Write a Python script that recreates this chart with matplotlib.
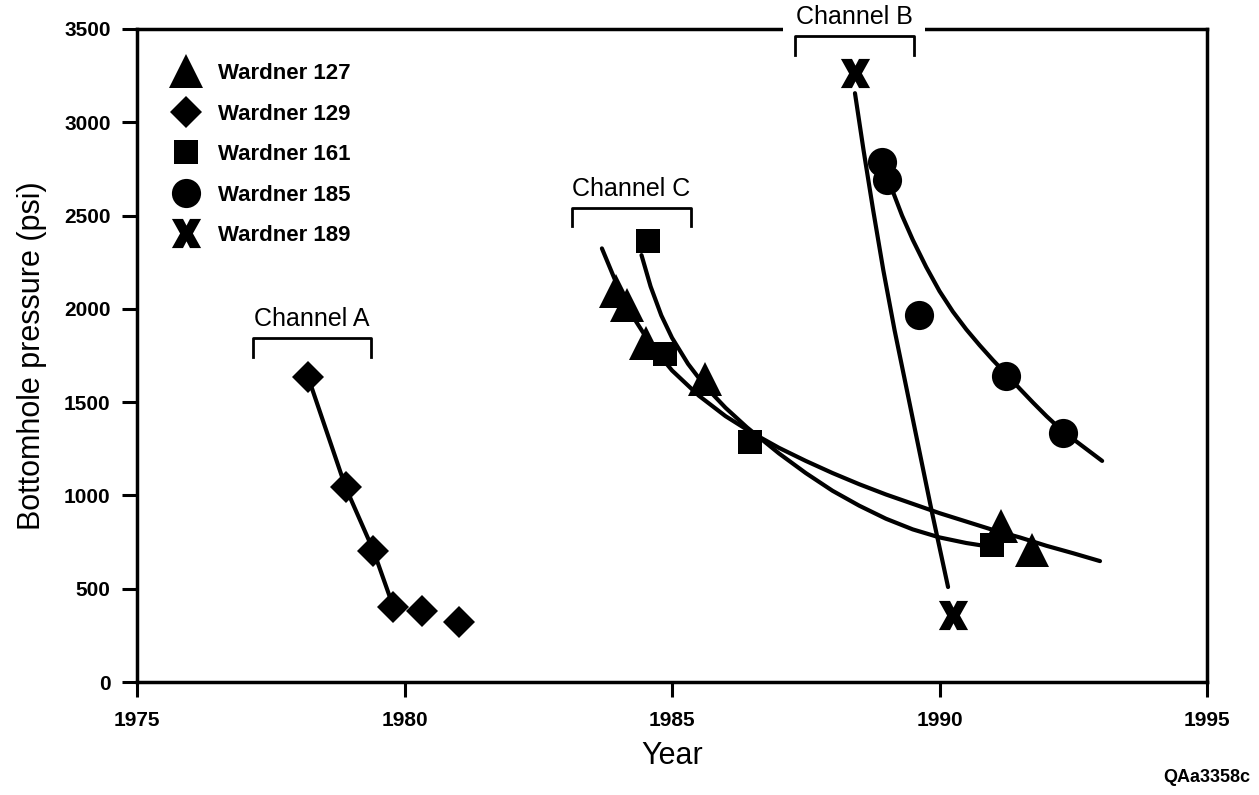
import matplotlib
matplotlib.use('Agg')
import matplotlib.pyplot as plt
from matplotlib.path import Path

plt.rcParams['font.family'] = ['Liberation Sans', 'DejaVu Sans']

w127_year = [1983.95, 1984.16, 1984.51, 1985.62, 1991.15, 1991.72]
w127_psi = [2098, 2020, 1815, 1624, 838, 707]
w129_year = [1978.20, 1978.90, 1979.42, 1979.79, 1980.32, 1981.02]
w129_psi = [1633, 1043, 704, 404, 382, 323]
w161_year = [1984.56, 1984.87, 1986.46, 1990.98]
w161_psi = [2365, 1758, 1288, 734]
w185_year = [1988.92, 1989.02, 1989.62, 1991.24, 1992.30]
w185_psi = [2788, 2690, 1967, 1640, 1336]
w189_year = [1988.42, 1990.26]
w189_psi = [3262, 359]

# trend curves
c127_year = [1983.69, 1984.0, 1984.3, 1984.6, 1985.0, 1985.5, 1986.0, 1986.5,
             1987.0, 1987.5, 1988.0, 1988.5, 1989.0, 1989.5, 1990.0, 1990.5,
             1991.0, 1991.5, 1992.0, 1992.5, 1993.0]
c127_psi = [2324, 2110, 1945, 1810, 1670, 1535, 1425, 1335,
            1255, 1185, 1120, 1060, 1005, 955, 905, 860,
            815, 775, 730, 690, 648]
c161_year = [1984.43, 1984.6, 1984.8, 1985.0, 1985.3, 1985.62, 1986.0, 1986.4,
             1987.0, 1987.5, 1988.0, 1988.5, 1989.0, 1989.5, 1990.0, 1990.5,
             1990.81]
c161_psi = [2288, 2120, 1965, 1845, 1705, 1585, 1470, 1365,
            1225, 1120, 1025, 945, 875, 818, 775, 745, 731]
c185_year = [1988.93, 1989.1, 1989.3, 1989.5, 1989.75, 1990.0, 1990.25,
             1990.5, 1990.75, 1991.0, 1991.25, 1991.5, 1991.75, 1992.0,
             1992.3, 1992.6, 1993.04]
c185_psi = [2787, 2650, 2500, 2370, 2225, 2095, 1985,
            1890, 1805, 1725, 1650, 1572, 1497, 1425,
            1345, 1280, 1185]
c189_year = [1988.42, 1988.58, 1988.76, 1988.95, 1989.16, 1989.39, 1989.62,
             1989.85, 1990.16]
c189_psi = [3156, 2851, 2529, 2207, 1886, 1565, 1243, 922, 509]

# bold letter-X shaped marker like the original
x_verts = [(-0.5, 0.5), (-0.12, 0.5), (0, 0.27), (0.12, 0.5), (0.5, 0.5),
           (0.22, 0), (0.5, -0.5), (0.12, -0.5), (0, -0.27), (-0.12, -0.5),
           (-0.5, -0.5), (-0.22, 0), (-0.5, 0.5)]
x_marker = Path(x_verts, closed=True)

fig = plt.figure(figsize=(12.59, 7.95), dpi=100)
ax = fig.add_axes([137/1259, 1 - 682/795, 1070/1259, 653/795])

line_kw = dict(color='black', lw=3.0, solid_capstyle='round',
               solid_joinstyle='round', zorder=3)
ax.plot(w129_year[:4], w129_psi[:4], **line_kw)
ax.plot(c127_year, c127_psi, **line_kw)
ax.plot(c161_year, c161_psi, **line_kw)
ax.plot(c185_year, c185_psi, **line_kw)
ax.plot(c189_year, c189_psi, **line_kw)

mk = dict(color='black', linestyle='none', markeredgewidth=0, zorder=4)
ax.plot(w127_year, w127_psi, marker='^', markersize=24, label='Wardner 127', **mk)
ax.plot(w129_year, w129_psi, marker='D', markersize=16, label='Wardner 129', **mk)
ax.plot(w161_year, w161_psi, marker='s', markersize=17, label='Wardner 161', **mk)
ax.plot(w185_year, w185_psi, marker='o', markersize=21, label='Wardner 185', **mk)
ax.plot(w189_year, w189_psi, marker=x_marker, markersize=21, label='Wardner 189', **mk)

ax.set_xlim(1975, 1995)
ax.set_ylim(0, 3500)
ax.set_xticks(range(1975, 1996, 5))
ax.set_yticks(range(0, 3501, 500))
ax.tick_params(direction='out', length=11, width=2.2, labelsize=15)
ax.tick_params(axis='x', pad=10)
ax.tick_params(axis='y', pad=8)
for lab in ax.get_xticklabels() + ax.get_yticklabels():
    lab.set_fontweight('bold')
for sp in ax.spines.values():
    sp.set_linewidth(2.5)

ax.set_xlabel('Year', fontsize=22, labelpad=8)
ax.set_ylabel('Bottomhole pressure (psi)', fontsize=22, labelpad=12)

# channel brackets
brackets = [('Channel A', 1977.17, 1979.37, 1843, 1742),
            ('Channel C', 1983.14, 1985.35, 2539, 2444),
            ('Channel B', 1987.30, 1989.52, 3462, 3360)]
for name, x0, x1, ytop, ybot in brackets:
    ax.plot([x0, x0, x1, x1], [ybot, ytop, ytop, ybot], color='black', lw=2,
            clip_on=False, zorder=6)
    box = None
    if name == 'Channel B':
        box = dict(facecolor='white', edgecolor='none', pad=9)
    ax.text((x0 + x1) / 2, ytop + 40, name, ha='center', va='bottom',
            fontsize=18, zorder=5, clip_on=False, bbox=box)

leg = ax.legend(loc='upper left', bbox_to_anchor=(0.0302, 0.948), frameon=False,
                borderaxespad=0, borderpad=0, handlelength=1.5, handletextpad=0.7,
                labelspacing=0.88, prop={'size': 16, 'weight': 'bold'})

fig.text(1250/1259, 1 - 778/795, 'QAa3358c', ha='right', va='center',
         fontsize=13, fontweight='bold')

fig.savefig('out.png', dpi=100)
